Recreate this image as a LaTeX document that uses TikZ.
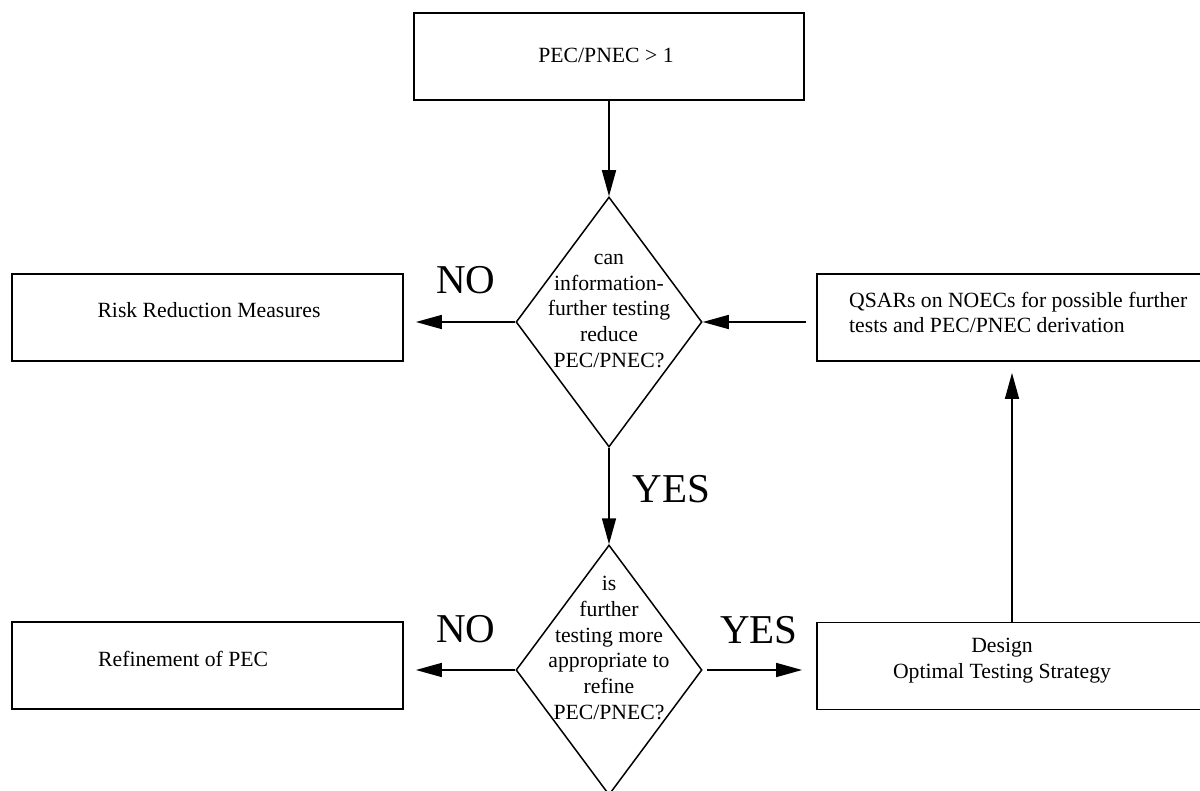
\documentclass[tikz,border=0pt]{standalone}
\usepackage{fontspec}
\setmainfont{Liberation Serif}
\usetikzlibrary{shapes.geometric,arrows.meta}
\begin{document}
\begin{tikzpicture}[x=1pt,y=-1pt,
  box/.style={draw,line width=1.8pt,minimum width=#1,minimum height=87pt,inner sep=0pt},
  dia/.style={draw,diamond,line width=1.5pt,minimum width=186pt,minimum height=250pt,inner sep=0pt},
  txt/.style={font=\fontsize{21.7}{25.7}\selectfont,inner sep=0pt,align=center},
  big/.style={font=\fontsize{41}{45}\selectfont,inner sep=0pt,anchor=base},
  arr/.style={-{Triangle[length=26pt,width=14pt]},line width=1.6pt}]
\useasboundingbox (0,0) rectangle (1200,791);
% boxes
\node[box=390pt] (top) at (609,56.5) {};
\node[box=391pt] (risk) at (207.5,317.5) {};
\node[box=386pt] (qsar) at (1010,317.5) {};
\node[box=391pt] (refine) at (207.5,665.5) {};
\node[box=386pt] (design) at (1010,666) {};
% diamonds
\node[dia] (d1) at (609,322) {};
\node[dia] (d2) at (609,670) {};
% texts
\node[txt] (toptxt) at (606,55) {PEC/PNEC \textgreater{} 1};
\node[txt] (risktxt) at (209,310) {Risk Reduction Measures};
\node[txt,anchor=west,align=left] (qsartxt) at (849,312.5) {QSARs on NOECs for possible further\\tests and PEC/PNEC derivation};
\node[txt,anchor=west] (refinetxt) at (98,659) {Refinement of PEC};
\node[txt] (designtxt) at (1002,660.5) {Design\\Optimal Testing Strategy};
\node[txt] (d1txt) at (609,311) {can\\information-\\further testing\\reduce\\PEC/PNEC?};
\node[txt] (d2txt) at (609,648) {is\\further\\testing more\\appropriate to\\refine\\PEC/PNEC?};
% labels
\node[big] (no1) at (466,294) {NO};
\node[big] (yes1) at (671.5,502) {YES};
\node[big] (no2) at (466,642) {NO};
\node[big] (yes2) at (759,643) {YES};
% connectors
\draw[arr] (top.south) -- (d1.north);
\draw[arr,shorten >=12pt] (d1.west) -- (d1.west -| risk.east);
\draw[arr,shorten <=10pt] (d1.east -| qsar.west) -- (d1.east);
\draw[arr] (d1.south) -- (d2.north);
\draw[arr,shorten >=12pt] (d2.west) -- (d2.west -| refine.east);
\draw[arr,shorten <=4pt,shorten >=14pt] (d2.east) -- (d2.east -| design.west);
\draw[arr,shorten >=11pt] ([xshift=2pt]design.north) -- ([xshift=2pt]qsar.south);
\end{tikzpicture}
\end{document}
